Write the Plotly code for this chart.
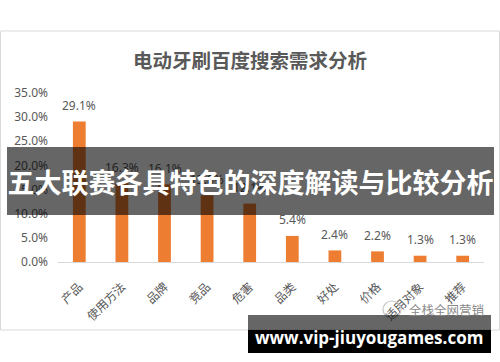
import plotly.graph_objects as go

categories = ["产品", "使用方法", "品牌", "竞品", "危害", "品类", "好处", "价格", "适用对象", "推荐"]
values = [29.1, 16.3, 16.1, 13.8, 12.1, 5.4, 2.4, 2.2, 1.3, 1.3]
y_ticks = [0, 5, 10, 15, 20, 25, 30, 35]
y_tick_labels = ["0.0%", "5.0%", "10.0%", "15.0%", "20.0%", "25.0%", "30.0%", "35.0%"]

W, H = 500, 362
L, R, T, B = 58, 484, 93, 262
FONT = "Noto Sans, Noto Sans CJK SC, sans-serif"
CJK = "Noto Sans CJK SC, sans-serif"
GREY = "#595959"

def px(x):
    return (x - L) / (R - L)

def py(y):
    return (B - y) / (B - T)

fig = go.Figure(go.Bar(
    x=categories, y=values,
    marker=dict(color="#ED7D31", line=dict(width=0)),
    cliponaxis=False,
))

fig.update_layout(
    width=W, height=H,
    margin=dict(l=L, r=W - R, t=T, b=H - B),
    paper_bgcolor="white", plot_bgcolor="white",
    bargap=0.7, showlegend=False,
    xaxis=dict(
        range=[-0.5, 9.5], showgrid=False, showline=True, linecolor="#d9d9d9", linewidth=1,
        tickangle=-45, tickfont=dict(size=12, color=GREY, family=CJK),
        ticks="outside", ticklen=6, tickcolor="rgba(0,0,0,0)",
        zeroline=False, ticklabelstandoff=6,
    ),
    yaxis=dict(
        range=[0, 35], tickvals=y_ticks, ticktext=y_tick_labels, showgrid=False,
        showline=False, zeroline=False, tickfont=dict(size=12, color=GREY, family=FONT),
        ticklabelstandoff=9,
    ),
)

# data labels (drawn before the overlay band so the band covers them)
for c, v in zip(categories, values):
    fig.add_annotation(x=c, y=v, xref="x", yref="y", text=f"{v:.1f}%",
                       showarrow=False, xanchor="center", yanchor="middle", yshift=16,
                       font=dict(size=12, color=GREY, family=FONT))

def note(text, x, y, size, color, family, **kw):
    fig.add_annotation(text=text, xref="paper", yref="paper", x=px(x), y=py(y),
                       xanchor="center", yanchor="middle", showarrow=False,
                       font=dict(size=size, color=color, family=family), **kw)

# chart frame
fig.add_shape(type="rect", xref="paper", yref="paper",
              x0=px(0.5), x1=px(499.5), y0=py(31), y1=py(330),
              line=dict(color="#d9d9d9", width=1), fillcolor="rgba(0,0,0,0)", layer="below")

# title
note("<b>电动牙刷百度搜索需求分析</b>", 250, 60, 19.5, GREY, CJK)

# watermark
fig.add_shape(type="circle", xref="paper", yref="paper",
              x0=px(383), x1=px(401), y0=py(318), y1=py(301),
              line=dict(color="#c8c8c8", width=1.2), fillcolor="rgba(0,0,0,0)")
note("全栈全网营销", 446.5, 309, 12.5, "#8a8a8a", CJK)

# overlay band (annotation with background so it also covers the data labels)
note("<b>五大联赛各具特色的深度解读与比较分析</b>", 250.5, 181, 27, "white", CJK,
     width=487, height=68, bgcolor="rgba(0,0,0,0.6)", borderpad=0, borderwidth=0)

# bottom band
fig.add_shape(type="rect", xref="paper", yref="paper",
              x0=px(248), x1=px(491), y0=py(315), y1=py(330),
              line=dict(width=0), fillcolor="rgba(0,0,0,0.6)", layer="above")
fig.add_shape(type="rect", xref="paper", yref="paper",
              x0=px(248), x1=px(491), y0=py(330), y1=py(353),
              line=dict(width=0), fillcolor="black", layer="above")
note("<b>www.vip-jiuyougames.com</b>", 369, 337, 17, "white", "Open Sans, sans-serif")

fig.write_html("out.html")
